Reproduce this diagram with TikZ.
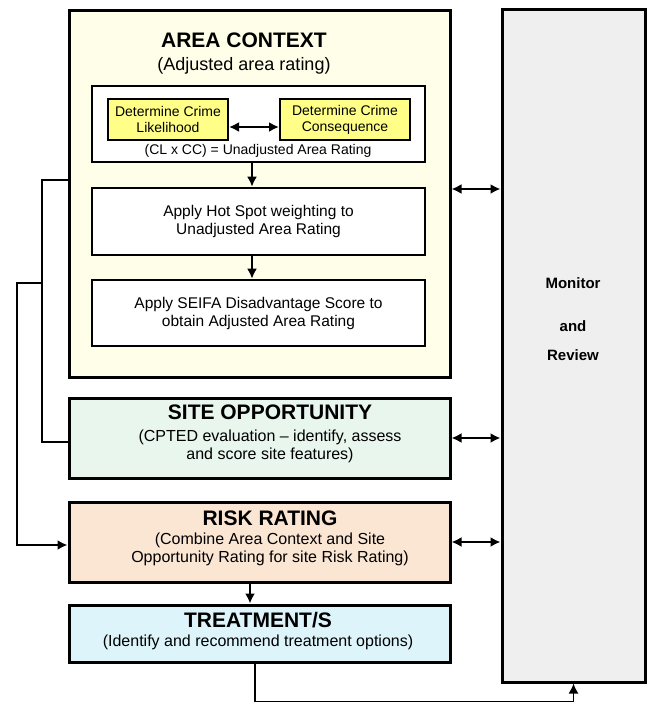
\documentclass[tikz,border=0pt]{standalone}
\usepackage{fontspec}
\setmainfont{Liberation Sans}
\usetikzlibrary{arrows.meta}
\definecolor{areafill}{HTML}{FFFFE9}
\definecolor{sitefill}{HTML}{E8F6EE}
\definecolor{riskfill}{HTML}{FBE6D4}
\definecolor{treatfill}{HTML}{DDF4FB}
\definecolor{monfill}{HTML}{EFEFEF}
\definecolor{crimefill}{HTML}{FFFF88}

\begin{document}
\begin{tikzpicture}[x=1pt,y=-1pt,>={Latex[length=10pt,width=10pt]},
  every node/.style={inner sep=0pt,align=center},
  stage/.style={draw,line width=3pt,minimum width=381pt},
  inbox/.style={draw,fill=white,line width=2.6pt,minimum width=333pt,font=\fontsize{15.5}{18}\selectfont},
  crime/.style={draw,fill=crimefill,line width=2pt,minimum height=41pt,font=\fontsize{14}{16}\selectfont},
  ttl/.style={font=\fontsize{21}{24}\selectfont\bfseries},
  sub/.style={font=\fontsize{16}{18}\selectfont},
  montext/.style={font=\fontsize{15}{18}\selectfont\bfseries},
  dbl/.style={<->,line width=2.2pt}]
\useasboundingbox (0,0) rectangle (650,728);
\node[stage,fill=areafill,minimum height=367pt] (area) at (259.5,193.5) {};
\node[ttl] (areattl) at (244,40) {AREA CONTEXT};
\node[sub,font=\fontsize{18}{20}\selectfont] (areasub) at (244,66) {(Adjusted area rating)};
\node[inbox,minimum height=76pt] (inner) at (258.5,124) {};
\node[crime,minimum width=120pt] (likely) at (168,119.5) {Determine Crime\\Likelihood};
\node[crime,minimum width=130pt] (conseq) at (345,119.5) {Determine Crime\\Consequence};
\node[font=\fontsize{14}{16}\selectfont] (unadj) at (258,151) {(CL x CC) = Unadjusted Area Rating};
\node[inbox,minimum height=67pt] (hot) at (258.5,221.5) {Apply Hot Spot weighting to\\Unadjusted Area Rating};
\node[inbox,minimum height=66pt] (seifa) at (258.5,313) {Apply SEIFA Disadvantage Score to\\obtain Adjusted Area Rating};
\node[stage,fill=sitefill,minimum height=80pt] (site) at (259.5,438) {};
\node[ttl] (sitettl) at (270,412) {SITE OPPORTUNITY};
\node[sub] (sitesub) at (270,446) {(CPTED evaluation -- identify, assess\\and score site features)};
\node[stage,fill=riskfill,minimum height=80pt] (risk) at (259.5,542) {};
\node[ttl] (riskttl) at (270,518) {RISK RATING};
\node[sub] (risksub) at (270,549) {(Combine Area Context and Site\\Opportunity Rating for site Risk Rating)};
\node[stage,fill=treatfill,minimum height=57pt] (treat) at (259.5,633.5) {};
\node[ttl] (treatttl) at (258,620) {TREATMENT/S};
\node[sub] (treatsub) at (258,642) {(Identify and recommend treatment options)};
\node[draw,fill=monfill,line width=3pt,minimum width=143pt,minimum height=673pt] (mon) at (573.5,345.5) {};
\node[montext] (monA) at (573,283) {Monitor};
\node[montext] (monB) at (573,326) {and};
\node[montext] (monC) at (573,355) {Review};
% links inside area context
\draw[dbl] ([yshift=-7.5pt]likely.east) -- ([yshift=-7.5pt]conseq.west);
\draw[->,line width=2pt] ([xshift=-6.5pt]inner.south) -- ([xshift=-6.5pt]hot.north);
\draw[->,line width=2pt] ([xshift=-6.5pt]hot.south) -- ([xshift=-6.5pt]seifa.north);
\draw[->,line width=2pt] ([xshift=-9.5pt]risk.south) -- ([xshift=-9.5pt]treat.north);
% monitor and review
\draw[dbl] (area.east |- 0,189) -- (mon.west |- 0,189);
\draw[dbl] (site.east) -- (mon.west |- site.east);
\draw[dbl] (risk.east) -- (mon.west |- risk.east);
\draw[->,line width=1.5pt] ([xshift=-4.5pt]treat.south) -- ++(0,38) -| (mon.south);
% feedback on the left
\draw[line width=1.2pt] (area.west |- 0,180) -| (42,442) -- (site.west |- 0,442);
\coordinate (split) at (42,283);
\draw[->,line width=2.2pt] (split) -- (17,283) |- (risk.west |- 0,545);
\end{tikzpicture}
\end{document}
